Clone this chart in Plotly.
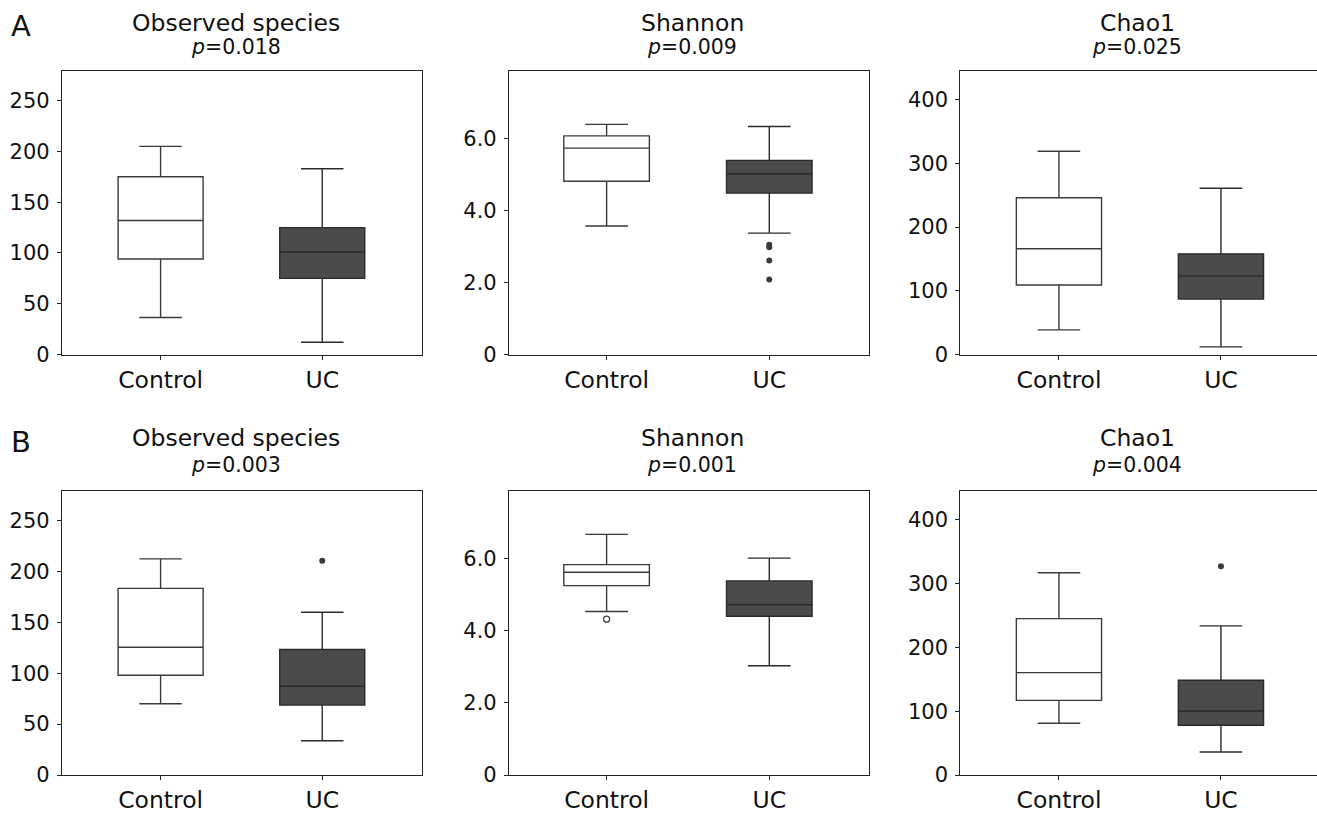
import plotly.graph_objects as go

W, H = 1317, 814

groups = ["Control", "UC"]
metrics = ["Observed species", "Shannon", "Chao1"]
p_row_a = ["0.018", "0.009", "0.025"]
p_row_b = ["0.003", "0.001", "0.004"]

# stats: [lower whisker, Q1, median, Q3, upper whisker]
a_obs_control = [36.5, 94, 132, 175, 205]
a_obs_uc = [12, 75, 101, 125, 183]
a_shannon_control = [3.57, 4.81, 5.73, 6.07, 6.39]
a_shannon_uc = [3.37, 4.48, 5.02, 5.39, 6.33]
a_chao_control = [38.6, 109, 166, 246, 319]
a_chao_uc = [12, 87, 123, 158, 261]

b_obs_control = [70, 98, 125.6, 183.5, 212.5]
b_obs_uc = [33.7, 68.7, 87.3, 123.4, 160]
b_shannon_control = [4.53, 5.25, 5.62, 5.83, 6.67]
b_shannon_uc = [3.03, 4.40, 4.72, 5.38, 6.01]
b_chao_control = [81, 117, 160.5, 245, 317]
b_chao_uc = [36, 78, 100.4, 148.5, 233.7]

# outliers
a_obs_control_out, a_obs_uc_out = [], []
a_shannon_control_out, a_shannon_uc_out = [], [3.05, 2.98, 2.61, 2.08]
a_chao_control_out, a_chao_uc_out = [], []
b_obs_control_out, b_obs_uc_out = [], [210.7]
b_shannon_control_out, b_shannon_uc_out = [4.32], []
b_chao_control_out, b_chao_uc_out = [], [327]

y_ticks = {
    "Observed species": ([0, 50, 100, 150, 200, 250], ["0", "50", "100", "150", "200", "250"], 279.5),
    "Shannon": ([0, 2, 4, 6], ["0", "2.0", "4.0", "6.0"], 7.88),
    "Chao1": ([0, 100, 200, 300, 400], ["0", "100", "200", "300", "400"], 445.5),
}

panels = [
    [(a_obs_control, a_obs_uc, a_obs_control_out, a_obs_uc_out),
     (a_shannon_control, a_shannon_uc, a_shannon_control_out, a_shannon_uc_out),
     (a_chao_control, a_chao_uc, a_chao_control_out, a_chao_uc_out)],
    [(b_obs_control, b_obs_uc, b_obs_control_out, b_obs_uc_out),
     (b_shannon_control, b_shannon_uc, b_shannon_control_out, b_shannon_uc_out),
     (b_chao_control, b_chao_uc, b_chao_control_out, b_chao_uc_out)],
]

# layout geometry (pixels)
col_px = [(62, 421.5), (509, 869), (960.3, 1317)]
row_px = [(70.7, 354.5), (490.7, 775)]
x_ranges = [[-0.61, 1.614], [-0.60, 1.613], [-0.609, 1.593]]
title_x_px = [236, 692, 1137]
title_base = [30.7, 445]
p_base = [54, 471.7]

FONT = "DejaVu Sans"
fill_colors = ["#ffffff", "#4b4b4b"]
line_colors = ["#3a3a3a", "#2b2b2b"]

fig = go.Figure()
layout = dict(
    width=W, height=H, margin=dict(l=0, r=0, t=0, b=0, autoexpand=False),
    paper_bgcolor="white", plot_bgcolor="white", showlegend=False,
    boxmode="overlay", font=dict(family=FONT, color="#111111"),
)
annotations = []

idx = 0
for r in range(2):
    for c in range(3):
        idx += 1
        xa = "x" if idx == 1 else f"x{idx}"
        ya = "y" if idx == 1 else f"y{idx}"
        xkey = "xaxis" if idx == 1 else f"xaxis{idx}"
        ykey = "yaxis" if idx == 1 else f"yaxis{idx}"
        ctrl, uc, ctrl_out, uc_out = panels[r][c]
        for gi, st in enumerate([ctrl, uc]):
            fig.add_trace(go.Box(
                x=[gi], lowerfence=[st[0]], q1=[st[1]], median=[st[2]], q3=[st[3]], upperfence=[st[4]],
                width=0.526, whiskerwidth=0.5, boxpoints=False,
                fillcolor=fill_colors[gi], line=dict(color=line_colors[gi], width=1.4),
                xaxis=xa, yaxis=ya, hoverinfo="skip",
            ))
        for gi, outs in enumerate([ctrl_out, uc_out]):
            if outs:
                if gi == 0:
                    mk = dict(symbol="circle-open", size=6, color="#444444", line=dict(width=1.3))
                else:
                    mk = dict(symbol="circle", size=6, color="#3a3a3a")
                fig.add_trace(go.Scatter(
                    x=[gi] * len(outs), y=outs, mode="markers", marker=mk,
                    xaxis=xa, yaxis=ya, hoverinfo="skip",
                ))
        x0, x1 = col_px[c]
        y0, y1 = row_px[r]
        tv, tt, ymax = y_ticks[metrics[c]]
        layout[xkey] = dict(
            domain=[x0 / W, min(x1 / W, 1.0)], range=x_ranges[c], anchor=ya,
            tickvals=[0, 1], ticktext=groups, ticks="outside", ticklen=4, tickcolor="#222",
            showline=True, linecolor="#222", linewidth=1.2, mirror=True, automargin=False,
            showgrid=False, zeroline=False, tickfont=dict(size=23.5, family=FONT, color="#111"),
            fixedrange=True,
        )
        layout[ykey] = dict(
            domain=[1 - y1 / H, 1 - y0 / H], range=[0, ymax], anchor=xa,
            tickvals=tv, ticktext=tt, ticks="outside", ticklen=4, tickcolor="#222",
            showline=True, linecolor="#222", linewidth=1.2, mirror=(c != 2), automargin=False,
            showgrid=False, zeroline=False, tickfont=dict(size=21, family=FONT, color="#111"),
            ticklabelstandoff=3, fixedrange=True,
        )
        # titles
        annotations.append(dict(
            text=metrics[c], xref="paper", yref="paper", x=title_x_px[c] / W,
            y=1 - (title_base[r] - 7.5) / H, xanchor="center", yanchor="middle",
            showarrow=False, font=dict(size=23.5, family=FONT, color="#111"),
        ))
        pv = p_row_a[c] if r == 0 else p_row_b[c]
        annotations.append(dict(
            text=f"<i>p</i>=" + pv, xref="paper", yref="paper", x=title_x_px[c] / W,
            y=1 - (p_base[r] - 6.5) / H, xanchor="center", yanchor="middle",
            showarrow=False, font=dict(size=20.5, family=FONT, color="#111"),
        ))

for lab, base in [("A", 35.7), ("B", 451.7)]:
    annotations.append(dict(
        text=lab, xref="paper", yref="paper", x=9 / W, y=1 - (base - 9.5) / H,
        xanchor="left", yanchor="middle", showarrow=False,
        font=dict(size=29, family=FONT, color="#111"),
    ))

layout["annotations"] = annotations
fig.update_layout(**layout)
fig.write_html("out.html", config={"displayModeBar": False})
